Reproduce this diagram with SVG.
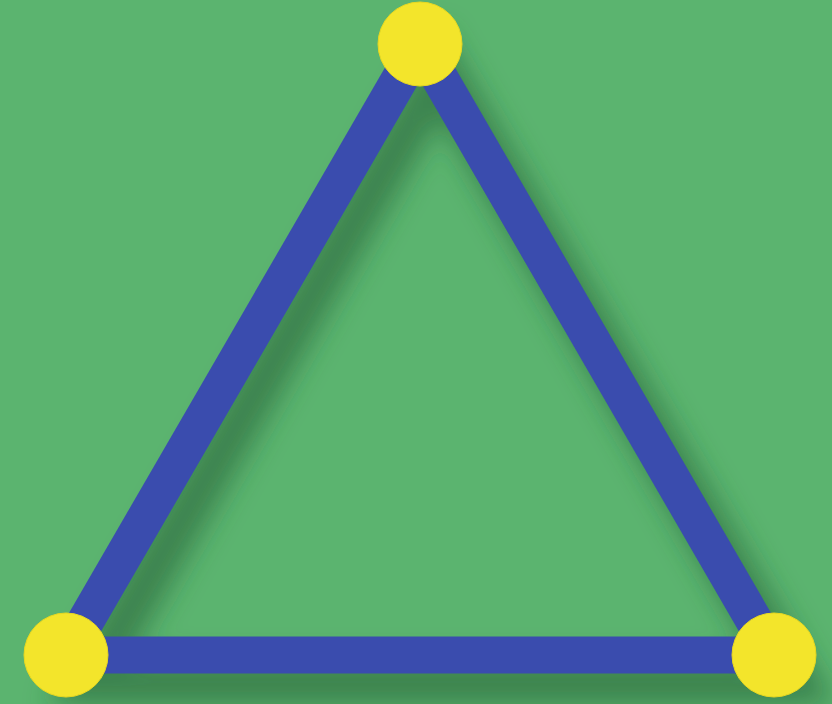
<svg xmlns="http://www.w3.org/2000/svg" width="832" height="704" viewBox="0 0 832 704">
<defs>
<filter id="sh" x="-20%" y="-20%" width="140%" height="140%"><feGaussianBlur stdDeviation="14"/></filter>
<style>
.e{stroke:#3a4cae;stroke-width:37;fill:none;stroke-linecap:butt}
.s{stroke:#2a6436;stroke-width:46;fill:none;opacity:0.6}
.n{fill:#f3e52b;stroke:#e8d820;stroke-width:1}
</style>
</defs>
<rect width="832" height="704" fill="#5bb46f"/>
<g id="shadow" filter="url(#sh)">
<path class="s" d="M440,72 L88,682 L796,682 Z"/>
</g>
<g id="connectors">
<line class="e" x1="420" y1="44" x2="66" y2="655"/>
<line class="e" x1="420" y1="44" x2="774" y2="655"/>
<line class="e" x1="66" y1="655" x2="774" y2="655"/>
</g>
<g id="node-top"><circle class="n" cx="420" cy="44" r="42"/></g>
<g id="node-left"><circle class="n" cx="66" cy="655" r="42"/></g>
<g id="node-right"><circle class="n" cx="774" cy="655" r="42"/></g>
</svg>
